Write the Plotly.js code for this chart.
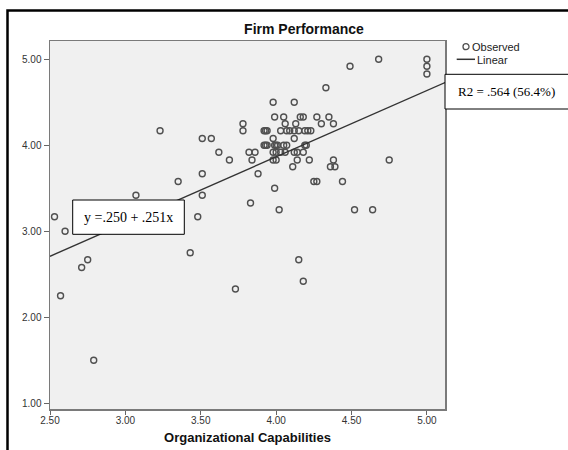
<!DOCTYPE html>
<html>
<head>
<meta charset="utf-8">
<script src="https://cdn.plot.ly/plotly-3.0.1.min.js"></script>
<style>html,body{margin:0;padding:0;background:#fff;}#chart{width:568px;height:450px;}</style>
</head>
<body>
<div id="chart"></div>
<script>
// Observed points (Organizational Capabilities, Firm Performance)
const capX = [
  4.68, 5.00,
  4.49, 5.00,
  5.00,
  4.33,
  3.98, 4.12,
  3.99, 4.05, 4.16, 4.18, 4.27, 4.35,
  3.78, 4.06, 4.13, 4.30, 4.38,
  3.23, 3.78, 3.92, 3.93, 3.94, 4.03, 4.07, 4.09, 4.12, 4.15, 4.19, 4.21, 4.23,
  3.51, 3.57, 3.98, 4.12,
  3.92, 3.93, 3.94, 3.99, 4.00, 4.01, 4.05, 4.07, 4.19, 4.20,
  3.62, 3.82, 3.86, 3.98, 4.00, 4.03, 4.06, 4.12, 4.14, 4.18,
  3.69, 3.84, 3.98, 4.00, 4.14, 4.22, 4.38, 4.75,
  4.11, 4.36, 4.39,
  3.51, 3.88,
  3.35, 4.25, 4.27, 4.44,
  3.99,
  3.07, 3.51,
  3.83,
  4.02, 4.52, 4.64,
  2.53, 3.48,
  2.60,
  3.43,
  2.75, 4.15,
  2.71,
  4.18,
  3.73,
  2.57,
  2.79
];
const perfY = [
  5.00, 5.00,
  4.92, 4.92,
  4.83,
  4.67,
  4.50, 4.50,
  4.33, 4.33, 4.33, 4.33, 4.33, 4.33,
  4.25, 4.25, 4.25, 4.25, 4.25,
  4.17, 4.17, 4.17, 4.17, 4.17, 4.17, 4.17, 4.17, 4.17, 4.17, 4.17, 4.17, 4.17,
  4.08, 4.08, 4.08, 4.08,
  4.00, 4.00, 4.00, 4.00, 4.00, 4.00, 4.00, 4.00, 4.00, 4.00,
  3.92, 3.92, 3.92, 3.92, 3.92, 3.92, 3.92, 3.92, 3.92, 3.92,
  3.83, 3.83, 3.83, 3.83, 3.83, 3.83, 3.83, 3.83,
  3.75, 3.75, 3.75,
  3.67, 3.67,
  3.58, 3.58, 3.58, 3.58,
  3.50,
  3.42, 3.42,
  3.33,
  3.25, 3.25, 3.25,
  3.17, 3.17,
  3.00,
  2.75,
  2.67, 2.67,
  2.58,
  2.42,
  2.33,
  2.25,
  1.50
];
// Fitted line endpoints as drawn (x at axis ends, y)
const fitX = [2.50, 5.12];
const fitY = [2.71, 4.73];

const xTicks = [2.5, 3.0, 3.5, 4.0, 4.5, 5.0];
const yTicks = [1, 2, 3, 4, 5];
const chartTitle = 'Firm Performance';
const xTitle = 'Organizational Capabilities';
const eqText = 'y =.250 + .251x';
const r2Text = 'R2 = .564 (56.4%)';
const legendNames = ['Observed', 'Linear'];

const sans = 'Liberation Sans, Arial, sans-serif';
const serif = 'Liberation Serif, Times New Roman, serif';
const markColor = '#505050';
const lineColor = '#333333';

// pixel -> paper helpers (plot area: x 50..445, y 41..409)
const px = v => (v - 50) / 395;
const py = v => (409 - v) / 368;

const traces = [
  {
    x: capX, y: perfY, type: 'scatter', mode: 'markers', name: legendNames[0],
    marker: {symbol: 'circle-open', size: 6, color: markColor, line: {width: 1.4, color: markColor}},
    cliponaxis: false
  },
  {
    x: fitX, y: fitY, type: 'scatter', mode: 'lines', name: legendNames[1],
    line: {color: lineColor, width: 1.4}
  }
];

const layout = {
  width: 568, height: 450,
  margin: {l: 50, r: 123, t: 41, b: 41, pad: 0},
  paper_bgcolor: '#ffffff',
  plot_bgcolor: '#f0f0f0',
  font: {family: sans, color: '#333'},
  showlegend: false,
  title: {
    text: chartTitle, font: {family: sans, size: 14, color: '#111', weight: 'bold'},
    xref: 'container', yref: 'container', x: 304/568, xanchor: 'center', y: 1 - 29/450, yanchor: 'middle'
  },
  xaxis: {
    range: [2.5, 5.12], tickvals: xTicks, tickformat: '.2f',
    ticks: 'outside', ticklen: 4, tickwidth: 1, tickcolor: '#666',
    showline: true, mirror: true, linecolor: '#7a7a7a', linewidth: 1.5,
    showgrid: false, zeroline: false, ticklabelstandoff: -3,
    tickfont: {family: sans, size: 10, color: '#333'},
    title: {text: xTitle, font: {family: sans, size: 13, color: '#111', weight: 'bold'}, standoff: 8}
  },
  yaxis: {
    range: [0.934, 5.213], tickvals: yTicks, tickformat: '.2f',
    ticks: 'outside', ticklen: 5, tickwidth: 1, tickcolor: '#666',
    showline: true, mirror: true, linecolor: '#7a7a7a', linewidth: 1.5,
    showgrid: false, zeroline: false,
    tickfont: {family: sans, size: 10, color: '#333'}
  },
  shapes: [
    // outer frame (clipped on right and bottom)
    {type: 'rect', xref: 'paper', yref: 'paper', x0: px(7.5), x1: 1.6, y0: -0.3, y1: py(10.5),
     line: {color: '#000', width: 2.5}, fillcolor: 'rgba(0,0,0,0)', layer: 'above'},
    // equation box
    {type: 'rect', xref: 'paper', yref: 'paper', x0: px(72.7), x1: px(184.3), y0: py(234.3), y1: py(200),
     line: {color: '#000', width: 1}, fillcolor: '#ffffff', layer: 'above'},
    // R2 box
    {type: 'rect', xref: 'paper', yref: 'paper', x0: 1.0, x1: px(580), y0: py(109), y1: py(74.3),
     line: {color: '#000', width: 1}, fillcolor: '#ffffff', layer: 'above'},
    // legend symbols
    {type: 'circle', xref: 'paper', yref: 'paper', xsizemode: 'pixel', ysizemode: 'pixel',
     xanchor: px(466), yanchor: py(46.7), x0: -3, x1: 3, y0: -3, y1: 3,
     line: {color: markColor, width: 1.3}, fillcolor: 'rgba(0,0,0,0)'},
    {type: 'line', xref: 'paper', yref: 'paper', x0: px(456.7), x1: px(475), y0: py(59.3), y1: py(59.3),
     line: {color: lineColor, width: 1.5}}
  ],
  annotations: [
    {text: eqText, xref: 'paper', yref: 'paper', x: px(128.5), y: py(217.5), xanchor: 'center', yanchor: 'middle',
     showarrow: false, font: {family: serif, size: 14, color: '#000'}},
    {text: r2Text, xref: 'paper', yref: 'paper', x: px(456), y: py(91.7), xanchor: 'left', yanchor: 'middle',
     showarrow: false, font: {family: serif, size: 13, color: '#000'}},
    {text: legendNames[0], xref: 'paper', yref: 'paper', x: px(471), y: py(46.7), xanchor: 'left', yanchor: 'middle',
     showarrow: false, borderpad: 0, font: {family: sans, size: 11, color: '#222'}},
    {text: legendNames[1], xref: 'paper', yref: 'paper', x: px(475.5), y: py(59.5), xanchor: 'left', yanchor: 'middle',
     showarrow: false, borderpad: 0, font: {family: sans, size: 11, color: '#222'}}
  ]
};

Plotly.newPlot('chart', traces, layout, {displayModeBar: false, staticPlot: true});
</script>
</body>
</html>
